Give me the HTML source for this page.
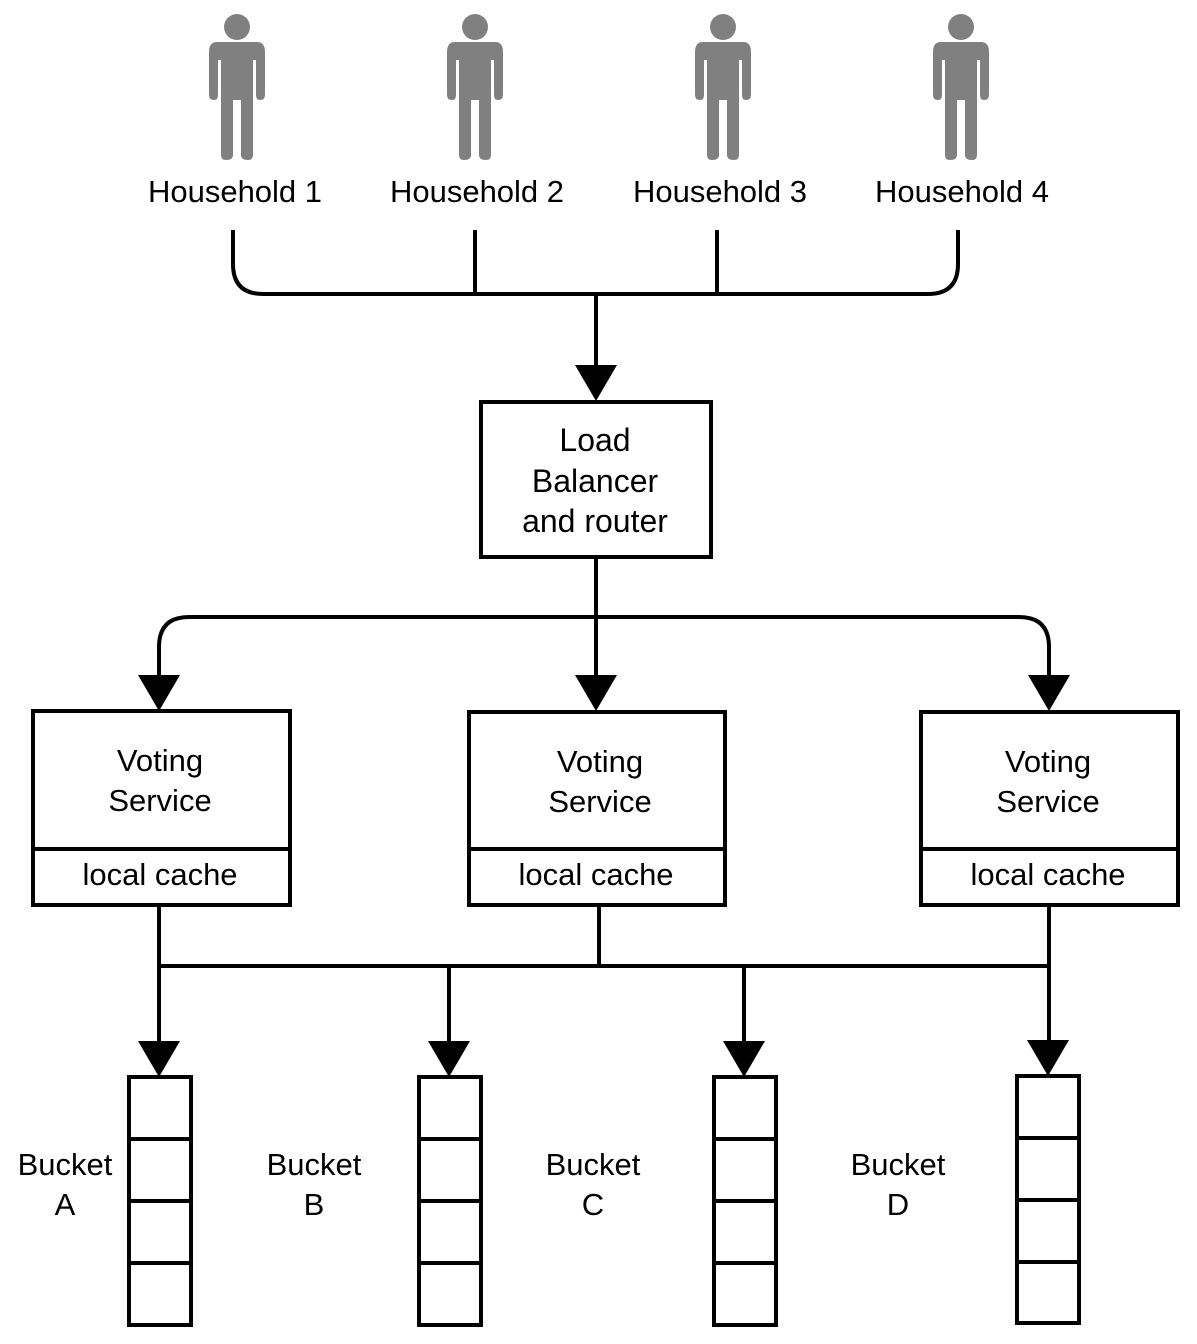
<!DOCTYPE html>
<html><head><style>
html,body{margin:0;padding:0;background:#fff;}
text{font-family:"Liberation Sans",sans-serif;fill:#000;}
</style></head><body>
<svg width="1197" height="1339" viewBox="0 0 1197 1339" xmlns="http://www.w3.org/2000/svg">
<defs>
<g id="p" fill="#808080">
<circle cx="0" cy="27" r="13"/>
<path d="M-20,42 H20 Q28,42 28,52 V95 Q28,100 23,100 Q19,100 19,95 V60 L16,60 V155 Q16,160 11,160 Q4,160 4,155 V100 H-4 V155 Q-4,160 -11,160 Q-16,160 -16,155 V60 L-19,60 V95 Q-19,100 -23,100 Q-28,100 -28,95 V52 Q-28,42 -20,42 Z"/>
</g>
</defs>
<use href="#p" x="237"/><use href="#p" x="475"/><use href="#p" x="723"/><use href="#p" x="961"/>
<g font-size="31" text-anchor="middle">
<text x="235" y="202">Household 1</text>
<text x="477" y="202">Household 2</text>
<text x="720" y="202">Household 3</text>
<text x="962" y="202">Household 4</text>
</g>
<g stroke="#000" stroke-width="4" fill="none">
<path d="M233,230 V264 Q233,294 263,294 H928 Q958,294 958,264 V230"/>
<path d="M475,230 V294 M717,230 V294 M596,294 V370"/>
<rect x="481" y="402" width="230" height="155"/>
<path d="M596,557 V680"/>
<path d="M159,680 V647 Q159,617 189,617 H1019 Q1049,617 1049,647 V680"/>
<rect x="33" y="711" width="257" height="194"/><path d="M33,849 H290"/>
<rect x="469" y="712" width="256" height="193"/><path d="M469,849 H725"/>
<rect x="921" y="712" width="257" height="193"/><path d="M921,849 H1178"/>
<path d="M159,905 V1045 M599,905 V966 M1049,905 V1045 M159,966 H1049 M449,966 V1045 M744,966 V1045"/>
<rect x="129" y="1077" width="62" height="248"/><path d="M129,1139 H191 M129,1201 H191 M129,1263 H191"/>
<rect x="419" y="1077" width="62" height="248"/><path d="M419,1139 H481 M419,1201 H481 M419,1263 H481"/>
<rect x="714" y="1077" width="62" height="248"/><path d="M714,1139 H776 M714,1201 H776 M714,1263 H776"/>
<rect x="1017" y="1076" width="62" height="247"/><path d="M1017,1138 H1079 M1017,1200 H1079 M1017,1262 H1079"/>
</g>
<g fill="#000">
<polygon points="575,365 617,365 596,401"/>
<polygon points="575,675 617,675 596,711"/>
<polygon points="138,675 180,675 159,711"/>
<polygon points="1028,675 1070,675 1049,711"/>
<polygon points="138,1041 180,1041 159,1077"/>
<polygon points="428,1041 470,1041 449,1077"/>
<polygon points="723,1041 765,1041 744,1077"/>
<polygon points="1027,1040 1069,1040 1048,1076"/>
</g>
<g font-size="31" text-anchor="middle">
<text x="595" y="451" font-size="32">Load</text>
<text x="595" y="492" font-size="32">Balancer</text>
<text x="595" y="532" font-size="32">and router</text>
<text x="160" y="771">Voting</text><text x="160" y="811">Service</text>
<text x="160" y="885">local cache</text>
<text x="600" y="772">Voting</text><text x="600" y="812">Service</text>
<text x="596" y="885">local cache</text>
<text x="1048" y="772">Voting</text><text x="1048" y="812">Service</text>
<text x="1048" y="885">local cache</text>
<text x="65" y="1175">Bucket</text><text x="65" y="1215">A</text>
<text x="314" y="1175">Bucket</text><text x="314" y="1215">B</text>
<text x="593" y="1175">Bucket</text><text x="593" y="1215">C</text>
<text x="898" y="1175">Bucket</text><text x="898" y="1215">D</text>
</g>
</svg>
</body></html>
